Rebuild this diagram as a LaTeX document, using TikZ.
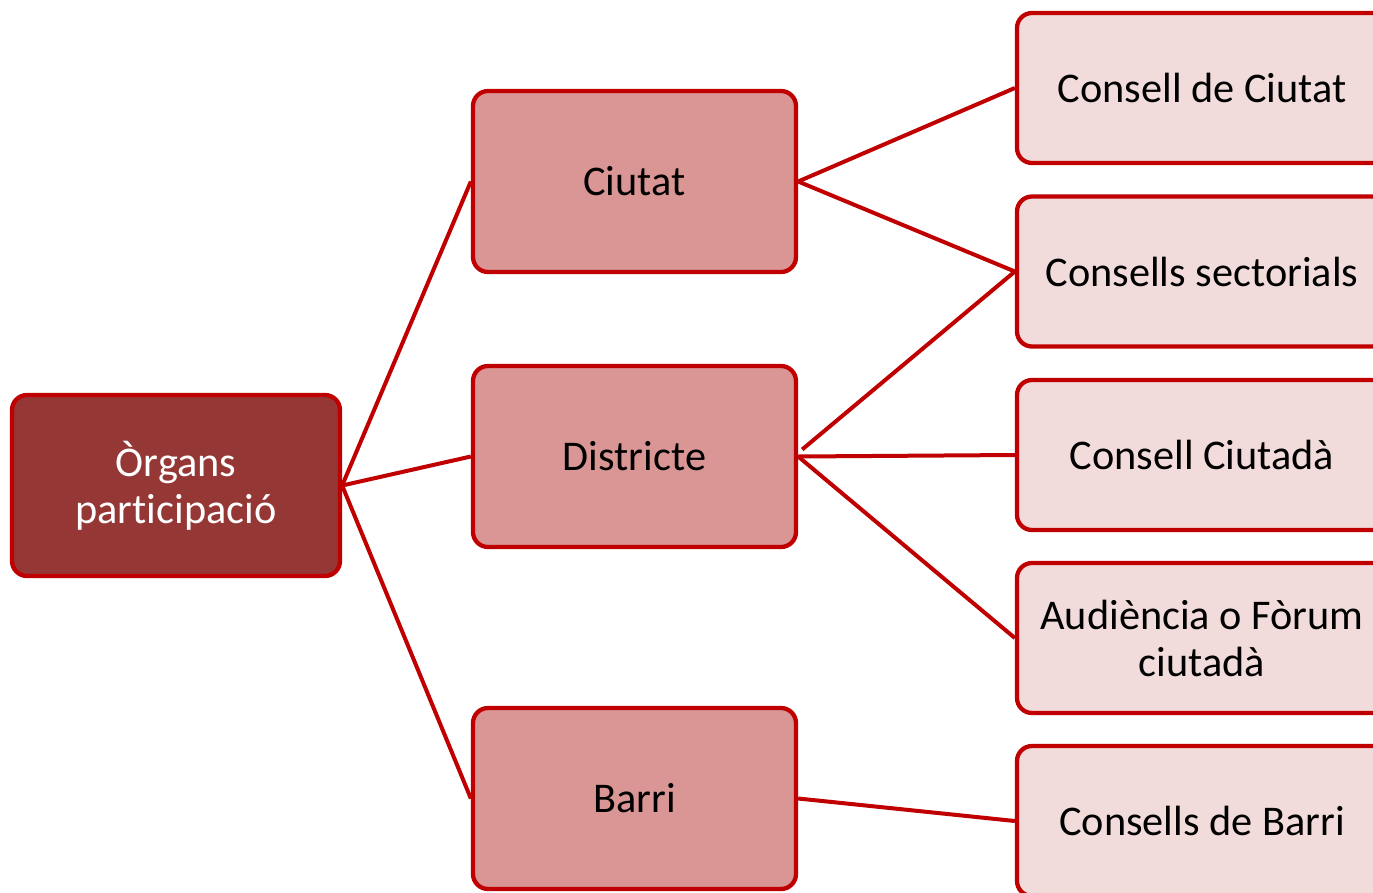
\documentclass[tikz,border=0pt]{standalone}
\usepackage{fontspec}
\setmainfont{Carlito}[Ligatures={NoCommon,NoContextual,NoRare,NoDiscretionary}]
\definecolor{edgered}{HTML}{C00000}
\definecolor{rootfill}{HTML}{953735}
\definecolor{midfill}{HTML}{D99694}
\definecolor{leaffill}{HTML}{F2DCDB}
\tikzset{
  box/.style={draw=edgered, line width=4.3pt, rounded corners=15pt, align=center,
    font=\fontsize{42.3}{47}\selectfont, inner sep=0pt},
  rootbox/.style={box, fill=rootfill, text=white, minimum width=328pt, minimum height=181pt},
  midbox/.style={box, fill=midfill, text=black, minimum width=323pt, minimum height=181pt},
  leafbox/.style={box, fill=leaffill, text=black, minimum width=370pt, minimum height=150pt},
  link/.style={draw=edgered, line width=4pt}
}
\begin{document}
\begin{tikzpicture}[x=1pt,y=-1pt]
\useasboundingbox (0,0) rectangle (1373,892);
\clip (0,0) rectangle (1373,892);
\node[rootbox] (root) at (176,485.5) {Òrgans\\par\kern0ptt\kern0pticipació};
\node[midbox] (ciu) at (634.5,181.5) {Ciutat};
\node[midbox] (dis) at (634.5,456.5) {Districte};
\node[midbox] (bar) at (634.5,798.5) {Barri};
\node[leafbox] (l1) at (1202,88) {Consell de Ciutat};
\node[leafbox] (l2) at (1202,271.5) {Consells sectorials};
\node[leafbox] (l3) at (1202,455) {Consell Ciutadà};
\node[leafbox] (l4) at (1202,638) {Audiència o Fòrum\\ciutadà};
\node[leafbox] (l5) at (1202,821) {Consells de Barri};
\draw[link] (root.east) -- (ciu.west);
\draw[link] (root.east) -- (dis.west);
\draw[link] (root.east) -- (bar.west);
\draw[link] (ciu.east) -- (l1.west);
\draw[link] (ciu.east) -- (l2.west);
\draw[link] ([shift={(4,-7)}]dis.east) -- (l2.west);
\draw[link] (dis.east) -- (l3.west);
\draw[link] (dis.east) -- (l4.west);
\draw[link] (bar.east) -- (l5.west);
\end{tikzpicture}
\end{document}
